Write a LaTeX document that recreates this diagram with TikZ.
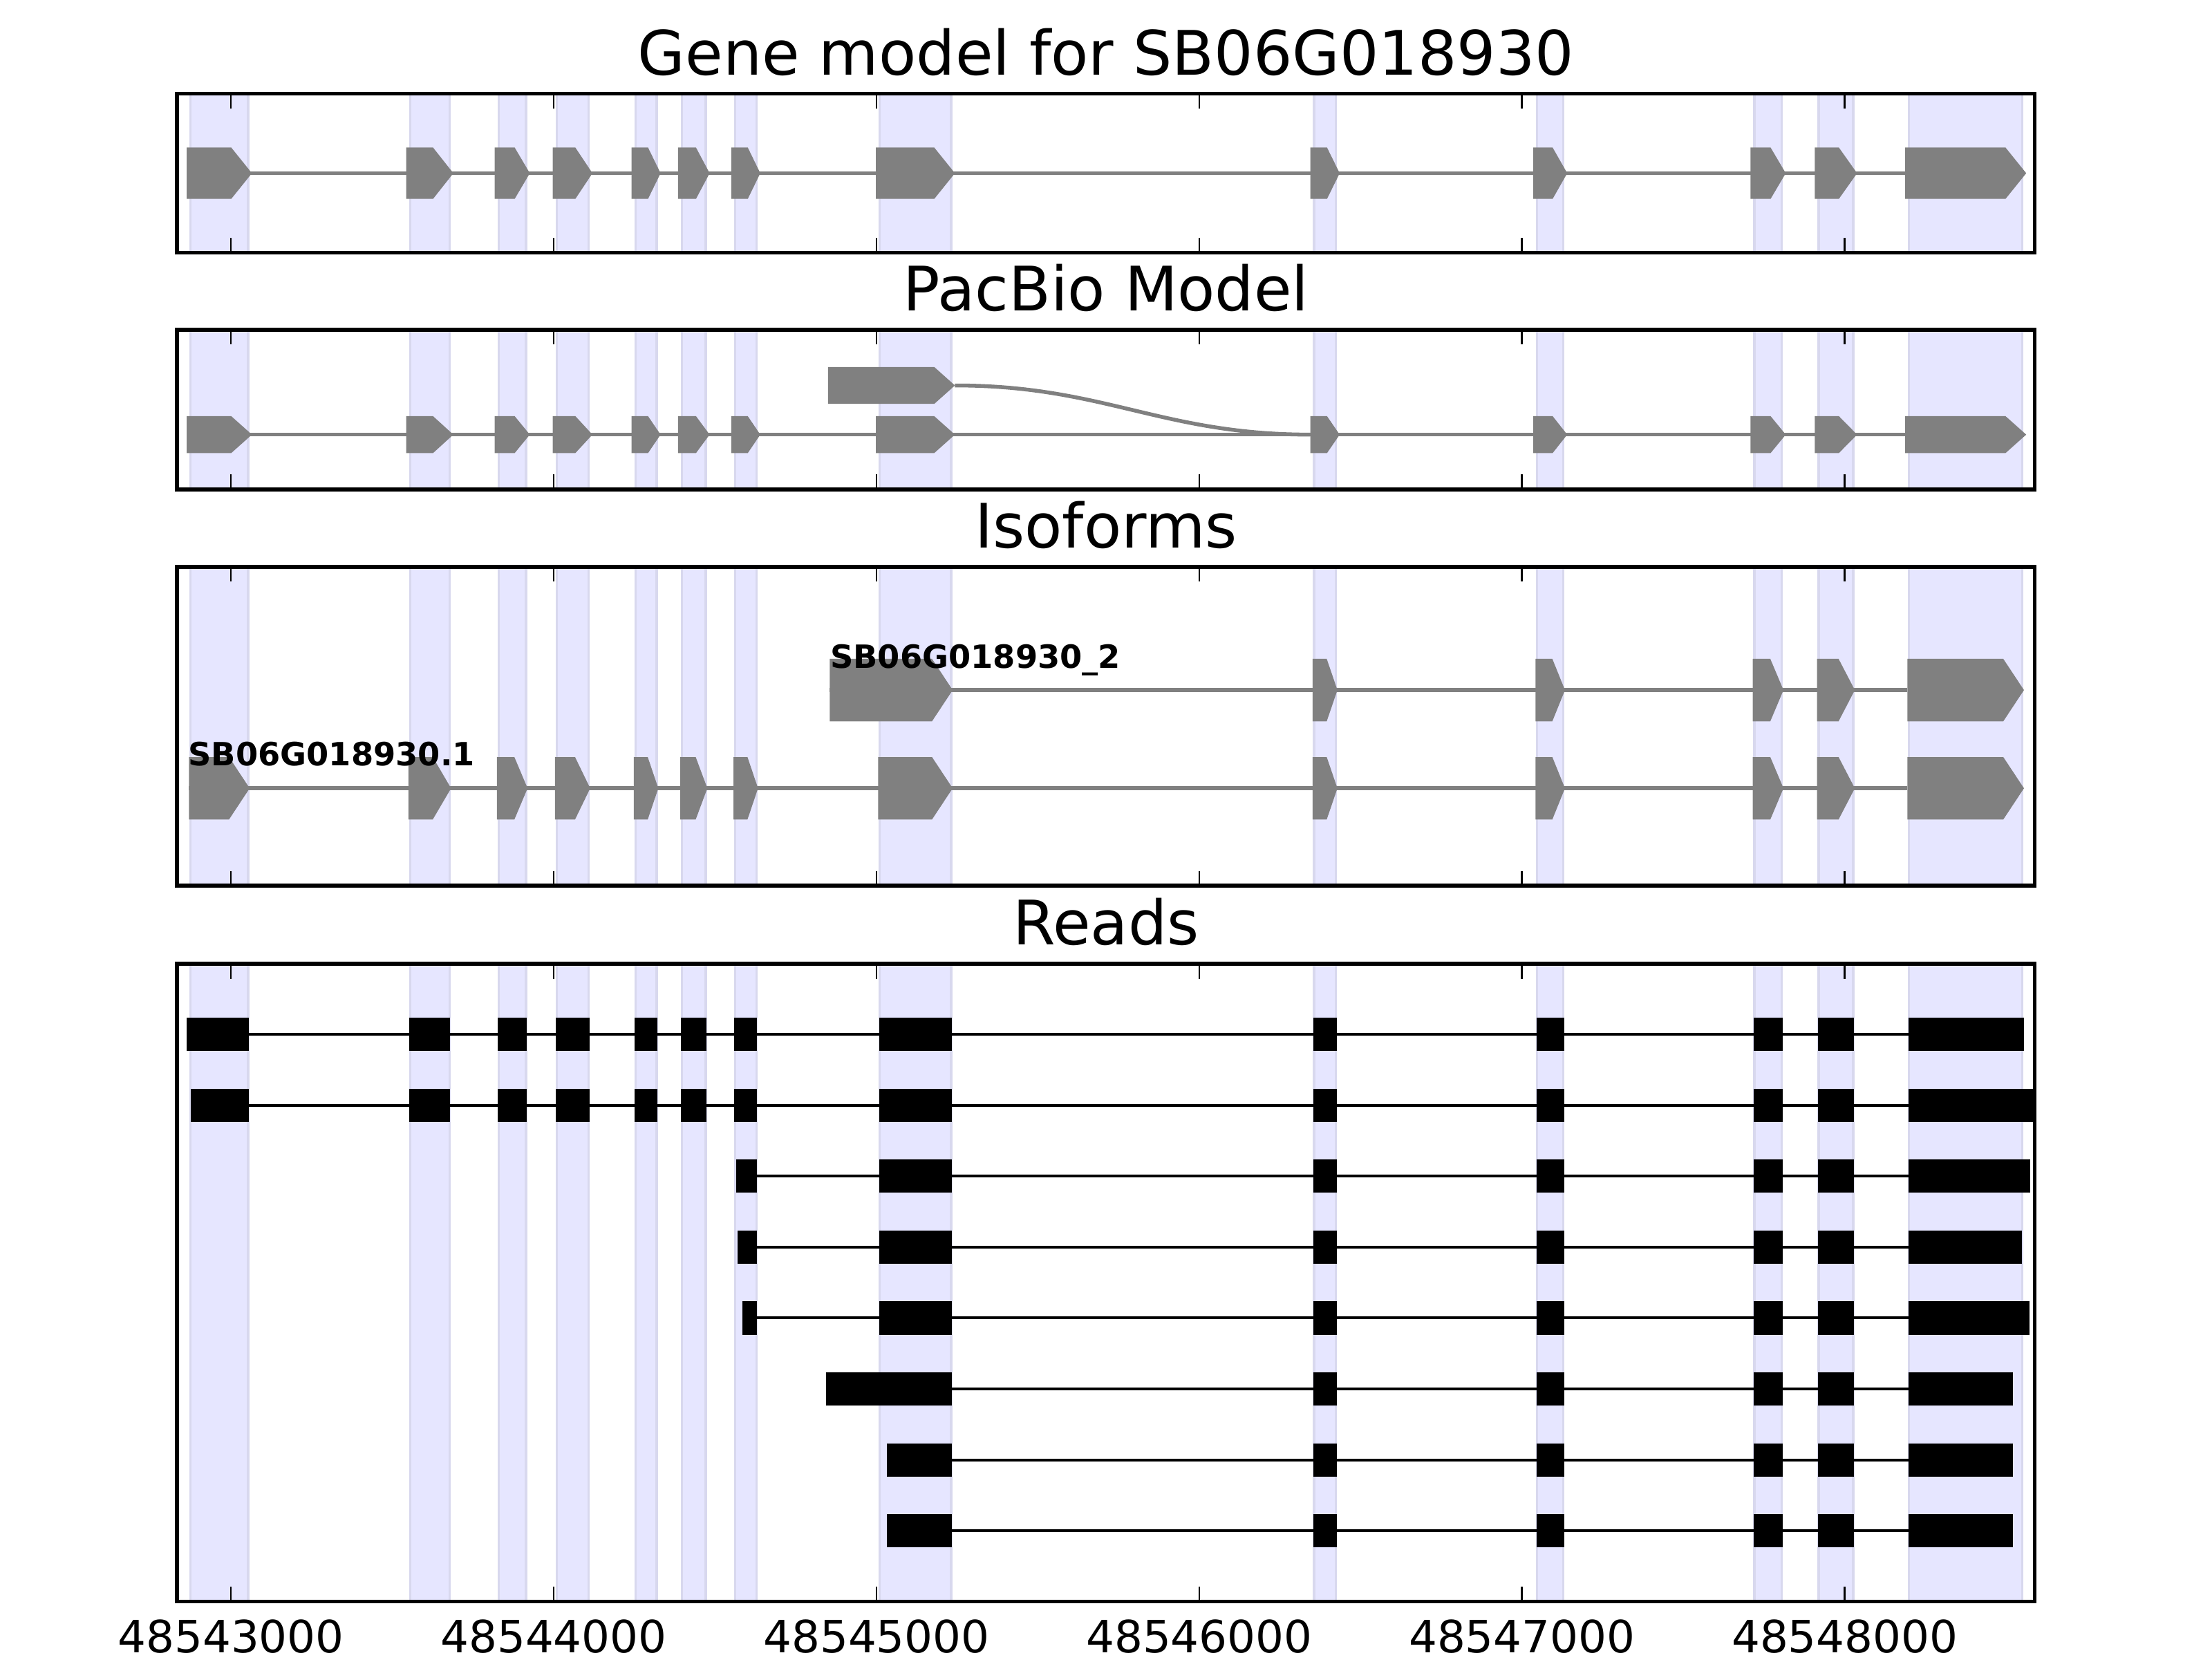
\documentclass[tikz,border=0pt]{standalone}
\usepackage{fontspec}
\setmainfont{DejaVu Sans}

\definecolor{bandblue}{RGB}{230,230,255}
\definecolor{bandedge}{RGB}{216,216,238}
\definecolor{exongray}{RGB}{128,128,128}

% exon glyph: start, tip, y centre, half height
\newcommand{\exonglyph}[4]{%
  \pgfmathsetmacro{\tpr}{min(0.43*(#2-#1),64)}%
  \fill[exongray] (#1,#3-#4) -- (#2-\tpr,#3-#4) -- (#2,#3)
    -- (#2-\tpr,#3+#4) -- (#1,#3+#4) -- cycle;}

% exon coordinates (bp after 48543000)
\def\exonlist{-125/53,555/677,829/914,1009/1108,1253/1319,1397/1471,1562/1628,2010/2231,3356/3423,4047/4128,4720/4805,4919/5026,5199/5550}
% panel top/bottom
\def\panels{66.2/178.9,233.4/346.4,401.1/626.9,682.2/1133.5}
% reads: first exon, start, end
\def\readlist{1/-134/5552,1/-121/5580,7/1567/5572,7/1572/5546,7/1587/5570,8/1847/5518,8/2035/5518,8/2035/5518}

\begin{document}
\begin{tikzpicture}[x=0.00296507cm, y=-0.0129592cm,
    band/.style={fill=bandblue, draw=bandedge, line width=0.6pt},
    axframe/.style={draw=black, line width=1pt},
    axtick/.style={black, line width=0.5pt},
    intron/.style={exongray, line width=1pt},
    readline/.style={black, line width=0.75pt},
    readblock/.style={fill=black, draw=black, line width=0.4pt},
    titletext/.style={anchor=base, inner sep=0pt, font=\fontsize{16}{19}\selectfont},
    ticklabel/.style={anchor=base, inner sep=0pt, font=\fontsize{11.6}{14}\selectfont},
    isolabel/.style={anchor=base west, inner sep=0pt, font=\fontsize{8.35}{10}\selectfont\bfseries}]
    \useasboundingbox (-715.5,0) rectangle (6137.7,1175.8);

    % Highlight bands
    \foreach \ptop/\pbot in \panels
        \foreach \a/\b in \exonlist
            \filldraw[band] (\a,\ptop) rectangle (\b,\pbot);

    % Gene model
    \draw[intron] (-137,122.6) -- (5187,122.6);
    \foreach \a/\b in \exonlist {
        \pgfmathsetmacro{\ga}{\a-12}\pgfmathsetmacro{\gb}{\b+12}
        \exonglyph{\ga}{\gb}{122.6}{18.15}
    }

    % PacBio model
    \draw[intron] (-137,307.6) -- (5187,307.6);
    \foreach \a/\b in \exonlist {
        \pgfmathsetmacro{\ga}{\a-12}\pgfmathsetmacro{\gb}{\b+12}
        \exonglyph{\ga}{\gb}{307.6}{13.05}
    }
    \exonglyph{1850}{2243}{272.8}{13.05}
    \draw[intron] (2243,272.8) .. controls (2705,272.8) and (2882,307.6) .. (3344,307.6);

    % Isoforms
    \draw[intron] (1855,488.4) -- (5194,488.4);
    \exonglyph{1855}{2236}{488.4}{22.1}
    \draw[intron] (-130,557.9) -- (5194,557.9);
    \foreach \a/\b [count=\i] in \exonlist {
        \pgfmathsetmacro{\ga}{\a-5}\pgfmathsetmacro{\gb}{\b+5}
        \ifnum\i>8 \exonglyph{\ga}{\gb}{488.4}{22.1}\fi
        \exonglyph{\ga}{\gb}{557.9}{22.1}
    }
    \node[isolabel] (iso2) at (1855,472.9) {SB06G018930\_2};
    \node[isolabel] (iso1) at (-134,542) {SB06G018930.1};

    % Reads
    \foreach \first/\rs/\re [count=\r] in \readlist {
        \pgfmathsetmacro{\ry}{732+50.2*(\r-1)}
        \draw[readline] (\rs,\ry) -- (\re,\ry);
        \foreach \a/\b [count=\i] in \exonlist {
            \ifnum\i<\first\else
                \ifnum\i=\first \def\bs{\rs}\else \def\bs{\a}\fi
                \ifnum\i=13 \def\be{\re}\else \def\be{\b}\fi
                \filldraw[readblock] (\bs,\ry-11.25) rectangle (\be,\ry+11.25);
            \fi
        }
    }

    % Axes frames and ticks
    \foreach \ptop/\pbot in \panels {
        \foreach \t in {0,1000,...,5000} {
            \draw[axtick] (\t,\ptop) -- ++(0,10.5);
            \draw[axtick] (\t,\pbot) -- ++(0,-10.5);
        }
        \draw[axframe] (-167.8,\ptop) rectangle (5588.7,\pbot);
    }

    % Titles
    \node[titletext] (title1) at (2711,53.1) {Gene model for SB06G018930};
    \node[titletext] (title2) at (2711,219.7) {PacBio Model};
    \node[titletext] (title3) at (2711,387.6) {Isoforms};
    \node[titletext] (title4) at (2711,668.7) {Reads};

    % X axis labels
    \foreach \t [count=\k from 3] in {0,1000,...,5000}
        \node[ticklabel] (xl\k) at (\t,1169.5) {4854\k000};

\end{tikzpicture}
\end{document}
